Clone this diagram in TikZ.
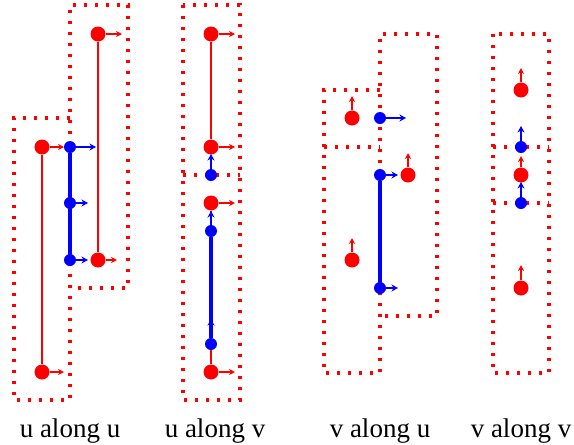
\documentclass[tikz,border=0pt]{standalone}
\usepackage{fontspec}
\setmainfont{Liberation Serif}
\usetikzlibrary{arrows.meta}
\begin{document}
\begin{tikzpicture}[x=1pt,y=-1pt,
  cell/.style={draw=red, line width=3.4pt, dash pattern=on 3.4pt off 7.6pt},
  rdot/.style={circle, fill=red, inner sep=0pt, minimum size=15pt},
  bdot/.style={circle, fill=blue, inner sep=0pt, minimum size=12pt},
  rlink/.style={draw=red, line width=2pt},
  blink/.style={draw=blue, line width=3.8pt},
  rvec/.style={draw=red, line width=1.5pt, -{Stealth[length=6pt,width=6pt]}},
  bvec/.style={draw=blue, line width=2.3pt, -{Stealth[length=6.5pt,width=7pt]}},
  caption/.style={anchor=base, font=\fontsize{27}{30}\selectfont, inner sep=0pt}]
\useasboundingbox (0,0) rectangle (574,445);

% ---------- u along u ----------
\draw[cell] (70,118) -- (14,118) -- (14,400) -- (70,400) -- (70,5)
            -- (128,5) -- (128,288) -- (70,288);
\coordinate (a1e) at (64,147);
\coordinate (a2e) at (64,372);
\coordinate (a3e) at (122,34);
\coordinate (a4e) at (117,260);
\coordinate (b1e) at (96,147);
\coordinate (b2e) at (88,203);
\coordinate (b3e) at (88,260);
\node[rdot] (a1) at (42,147) {};
\node[rdot] (a2) at (42,372) {};
\node[rdot] (a3) at (98,34) {};
\node[rdot] (a4) at (98,260) {};
\draw[rlink] (a1) -- (a2);
\draw[rlink] (a3) -- (a4);
\draw[rvec] (a1.east) -- (a1e);
\draw[rvec] (a2.east) -- (a2e);
\draw[rvec] (a3.east) -- (a3e);
\draw[rvec] (a4.east) -- (a4e);
\node[bdot] (b1) at (70,147) {};
\node[bdot] (b2) at (70,203) {};
\node[bdot] (b3) at (70,260) {};
\draw[blink] (b1) -- (b2);
\draw[blink] (b2) -- (b3);
\draw[bvec] (b1.east) -- (b1e);
\draw[bvec] (b2.east) -- (b2e);
\draw[bvec] (b3.east) -- (b3e);
\node[caption] (t1) at (70,437) {u along u};

% ---------- u along v ----------
\draw[cell] (183,5) rectangle (240,400);
\draw[cell] (183,175) -- (240,175);
\coordinate (c1e) at (235,34);
\coordinate (c2e) at (235,147);
\coordinate (c3e) at (235,203);
\coordinate (c4e) at (235,372);
\coordinate (d1e) at (211,154);
\coordinate (d2e) at (211,211);
\coordinate (d3e) at (211,319);
\node[rdot] (c1) at (211,34) {};
\node[rdot] (c2) at (211,147) {};
\node[rdot] (c3) at (211,203) {};
\node[rdot] (c4) at (211,372) {};
\draw[rlink] (c1) -- (c2);
\draw[rlink] (c3) -- (c4);
\draw[rvec] (c1.east) -- (c1e);
\draw[rvec] (c2.east) -- (c2e);
\draw[rvec] (c3.east) -- (c3e);
\draw[rvec] (c4.east) -- (c4e);
\node[bdot] (d1) at (211,175) {};
\node[bdot] (d2) at (211,231) {};
\node[bdot] (d3) at (211,344) {};
\draw[blink] (d2) -- (d3);
\draw[bvec] (d1.north) -- (d1e);
\draw[bvec] (d2.north) -- (d2e);
\draw[bvec] (d3.north) -- (d3e);
\node[caption] (t2) at (215,437) {u along v};

% ---------- v along u ----------
\draw[cell] (380,90) -- (324,90) -- (324,373) -- (380,373) -- (380,34)
            -- (437,34) -- (437,316) -- (380,316);
\draw[cell] (324,147) -- (380,147);
\coordinate (e1e) at (352,96);
\coordinate (e2e) at (408,153);
\coordinate (e3e) at (352,238);
\coordinate (f1e) at (406,118);
\coordinate (f2e) at (398,175);
\coordinate (f3e) at (398,288);
\node[rdot] (e1) at (352,118) {};
\node[rdot] (e2) at (408,175) {};
\node[rdot] (e3) at (352,260) {};
\draw[rvec] (e1.north) -- (e1e);
\draw[rvec] (e2.north) -- (e2e);
\draw[rvec] (e3.north) -- (e3e);
\node[bdot] (f1) at (380,118) {};
\node[bdot] (f2) at (380,175) {};
\node[bdot] (f3) at (380,288) {};
\draw[blink] (f2) -- (f3);
\draw[bvec] (f1.east) -- (f1e);
\draw[bvec] (f2.east) -- (f2e);
\draw[bvec] (f3.east) -- (f3e);
\node[caption] (t3) at (380,437) {v along u};

% ---------- v along v ----------
\draw[cell] (493,34) rectangle (549,373);
\draw[cell] (493,147) -- (549,147);
\draw[cell] (493,203) -- (549,203);
\coordinate (g1e) at (521,68);
\coordinate (g2e) at (521,156);
\coordinate (g3e) at (521,265);
\coordinate (h1e) at (521,126);
\coordinate (h2e) at (521,182);
\node[rdot] (g1) at (521,90) {};
\node[rdot] (g2) at (521,175) {};
\node[rdot] (g3) at (521,288) {};
\draw[rvec] (g1.north) -- (g1e);
\draw[rvec] (g2.north) -- (g2e);
\draw[rvec] (g3.north) -- (g3e);
\node[bdot] (h1) at (521,147) {};
\node[bdot] (h2) at (521,203) {};
\draw[bvec] (h1.north) -- (h1e);
\draw[bvec] (h2.north) -- (h2e);
\node[caption] (t4) at (521,437) {v along v};
\end{tikzpicture}
\end{document}
